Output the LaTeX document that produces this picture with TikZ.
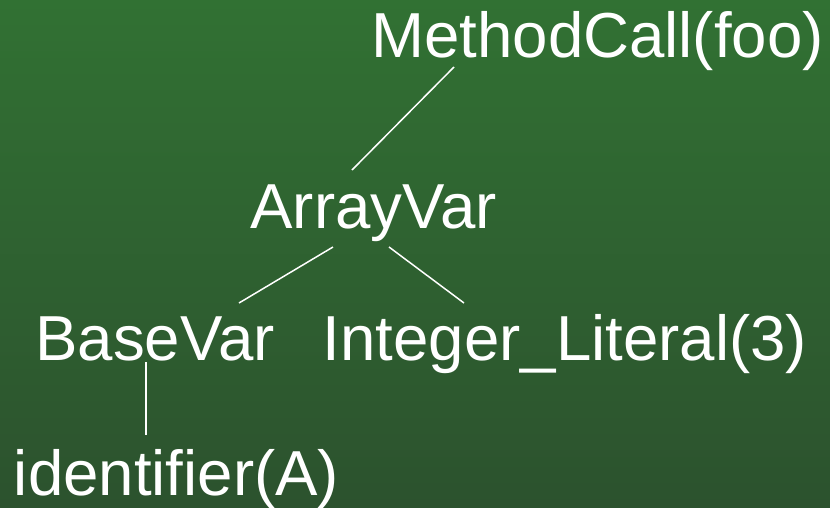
\documentclass[tikz,border=0pt]{standalone}
\usepackage{fontspec}
\setmainfont{Liberation Sans}
\usepackage{tikz}

\definecolor{bgtop}{RGB}{49,113,51}
\definecolor{bgbottom}{RGB}{44,82,46}

\begin{document}
\begin{tikzpicture}[x=1pt,y=-1pt]
	
	\tikzset{term/.style = {text=white,inner sep=0pt,anchor=base,font=\fontsize{63.6}{75}\selectfont}}
	\tikzset{link/.style = {draw=white,line width=1.5pt}}
	
	\shade[top color=bgtop,bottom color=bgbottom] (0,0) rectangle (830,507);
	\useasboundingbox (0,0) rectangle (830,507);
	
	\node[term] (mc) at (597.5,57) {MethodCall(foo)};
	\node[term] (av) at (373.5,228) {ArrayVar};
	\node[term] (bv) at (155,360) {BaseVar};
	\node[term] (il) at (565,360) {Integer\_Literal(3)};
	\node[term] (id) at (176.5,495) {identifier(A)};
	
	\draw[link] ([shift={(-143.5,10)}]mc.base) -- ([shift={(-21.5,-58)}]av.base);
	\draw[link] ([shift={(-40.5,19)}]av.base) -- ([shift={(84,-57)}]bv.base);
	\draw[link] ([shift={(15.5,19)}]av.base) -- ([shift={(-101,-57)}]il.base);
	\draw[link] ([shift={(-9,2)}]bv.base) -- ([shift={(-30.5,-60)}]id.base);
	\end{tikzpicture}
\end{document}
